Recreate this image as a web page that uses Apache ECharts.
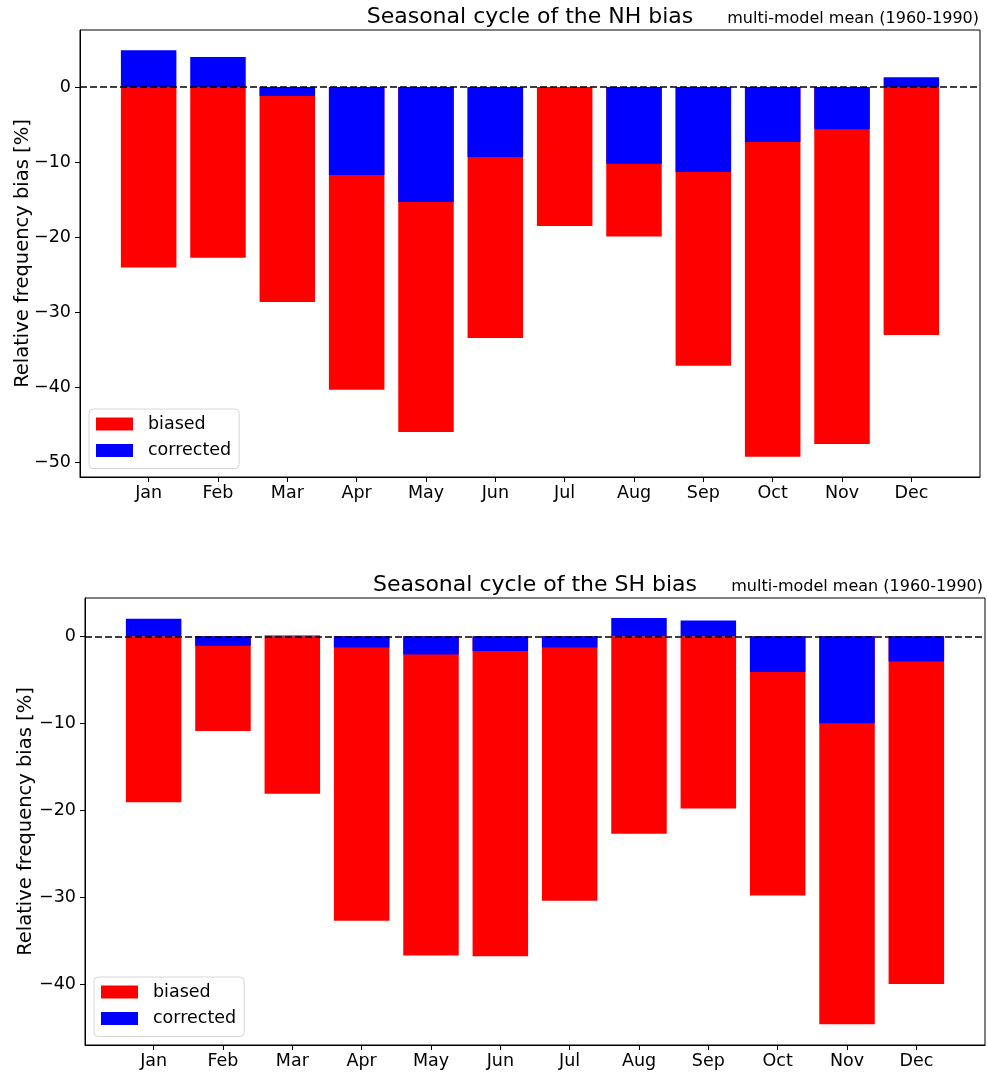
<!DOCTYPE html>
<html>
<head>
<meta charset="utf-8">
<script src="https://cdn.jsdelivr.net/npm/echarts@6/dist/echarts.min.js"></script>
<style>
    html, body { margin: 0; padding: 0; background: #fff; }
    #main { width: 987px; height: 1072px; }
</style>
</head>
<body>
<div id="main"></div>
<script>
// 月份
var months = ['Jan', 'Feb', 'Mar', 'Apr', 'May', 'Jun', 'Jul', 'Aug', 'Sep', 'Oct', 'Nov', 'Dec'];

// NH bias [%]
var nhBiased = [-24.0, -22.7, -28.6, -40.3, -45.9, -33.4, -18.5, -19.9, -37.1, -49.2, -47.5, -33.0];
var nhCorrected = [4.9, 4.0, -1.2, -11.7, -15.3, -9.3, 0.0, -10.2, -11.3, -7.3, -5.6, 1.3];

// SH bias [%]
var shBiased = [-19.1, -10.9, -18.1, -32.7, -36.7, -36.8, -30.4, -22.7, -19.8, -29.8, -44.6, -40.0];
var shCorrected = [2.0, -1.1, 0.1, -1.3, -2.1, -1.7, -1.3, 2.1, 1.8, -4.1, -10.0, -2.9];

var nhTicks = [-50, -40, -30, -20, -10, 0];
var shTicks = [-40, -30, -20, -10, 0];
var monthTicks = [1, 2, 3, 4, 5, 6, 7, 8, 9, 10, 11, 12];

var FONT = 'DejaVu Sans';

function toPairs(values) {
    var out = [];
    for (var i = 0; i < values.length; i++) {
        out.push([i + 1, values[i]]);
    }
    return out;
}

function xAxisOf(gridIndex) {
    return {
        type: 'value',
        gridIndex: gridIndex,
        min: 0.01,
        max: 12.99,
        splitLine: {show: false},
        axisLine: {show: true, onZero: false, lineStyle: {color: '#000', width: 1}},
        axisTick: {show: true, customValues: monthTicks, length: 5, lineStyle: {color: '#000', width: 1}},
        axisLabel: {
            customValues: monthTicks,
            margin: 7,
            color: '#000',
            fontFamily: FONT,
            fontSize: 17.5,
            formatter: function (v) {
                return months[Math.round(v) - 1] || '';
            }
        }
    };
}

function yAxisOf(gridIndex, min, max, ticks, nameGap) {
    return {
        type: 'value',
        gridIndex: gridIndex,
        min: min,
        max: max,
        name: 'Relative frequency bias [%]',
        nameLocation: 'middle',
        nameGap: nameGap,
        nameMoveOverlap: false,
        nameTextStyle: {color: '#000', fontFamily: FONT, fontSize: 19.5},
        splitLine: {show: false},
        axisLine: {show: true, onZero: false, lineStyle: {color: '#000', width: 1}},
        axisTick: {show: true, customValues: ticks, length: 5, lineStyle: {color: '#000', width: 1}},
        axisLabel: {
            customValues: ticks,
            margin: 9,
            color: '#000',
            fontFamily: FONT,
            fontSize: 17.5,
            formatter: function (v) {
                return String(v).replace('-', '\u2212');
            }
        }
    };
}

function legendOf(left, top) {
    return {
        data: ['biased', 'corrected'],
        orient: 'vertical',
        left: left,
        top: top,
        icon: 'rect',
        itemWidth: 37,
        itemHeight: 13,
        itemGap: 8.5,
        padding: [6, 8, 9, 7],
        borderColor: '#d6d6d6',
        borderWidth: 1,
        borderRadius: 4,
        backgroundColor: '#fff',
        selectedMode: false,
        textStyle: {color: '#000', fontFamily: FONT, fontSize: 17.5, padding: [0, 0, 0, 10]}
    };
}

var zeroLine = {
    silent: true,
    symbol: ['none', 'none'],
    label: {show: false},
    lineStyle: {color: '#000', width: 1.5, type: [7, 3]},
    data: [{yAxis: 0}]
};

function barsOf(gridIndex, biased, corrected) {
    return [
        {
            name: 'biased',
            type: 'bar',
            xAxisIndex: gridIndex,
            yAxisIndex: gridIndex,
            barWidth: 55.5,
            barGap: '-100%',
            itemStyle: {color: '#ff0000'},
            data: toPairs(biased)
        },
        {
            name: 'corrected',
            type: 'bar',
            xAxisIndex: gridIndex,
            yAxisIndex: gridIndex,
            barWidth: 55.5,
            barGap: '-100%',
            itemStyle: {color: '#0000ff'},
            markLine: zeroLine,
            data: toPairs(corrected)
        }
    ];
}

var chart = echarts.init(document.getElementById('main'));

var option = {
    animation: false,
    backgroundColor: '#fff',
    title: [
        {
            text: 'Seasonal cycle of the NH bias',
            left: 530, top: 6, textAlign: 'center', padding: 0,
            textStyle: {color: '#000', fontFamily: FONT, fontSize: 22, fontWeight: 'normal'}
        },
        {
            text: 'multi-model mean (1960-1990)',
            right: 8, top: 10.5, padding: 0,
            textStyle: {color: '#000', fontFamily: FONT, fontSize: 16, fontWeight: 'normal'}
        },
        {
            text: 'Seasonal cycle of the SH bias',
            left: 535, top: 574.5, textAlign: 'center', padding: 0,
            textStyle: {color: '#000', fontFamily: FONT, fontSize: 22, fontWeight: 'normal'}
        },
        {
            text: 'multi-model mean (1960-1990)',
            right: 4, top: 579, padding: 0,
            textStyle: {color: '#000', fontFamily: FONT, fontSize: 16, fontWeight: 'normal'}
        }
    ],
    legend: [legendOf(89, 409), legendOf(94, 977)],
    grid: [
        {left: 80, top: 30, width: 900, height: 447, show: true, borderColor: '#000', borderWidth: 1, containLabel: false, outerBoundsMode: 'none'},
        {left: 85, top: 598, width: 900, height: 447, show: true, borderColor: '#000', borderWidth: 1, containLabel: false, outerBoundsMode: 'none'}
    ],
    xAxis: [xAxisOf(0), xAxisOf(1)],
    yAxis: [
        yAxisOf(0, -51.9, 7.6, nhTicks, 47),
        yAxisOf(1, -47.0, 4.4, shTicks, 49)
    ],
    series: barsOf(0, nhBiased, nhCorrected).concat(barsOf(1, shBiased, shCorrected))
};

chart.setOption(option);
</script>
</body>
</html>
